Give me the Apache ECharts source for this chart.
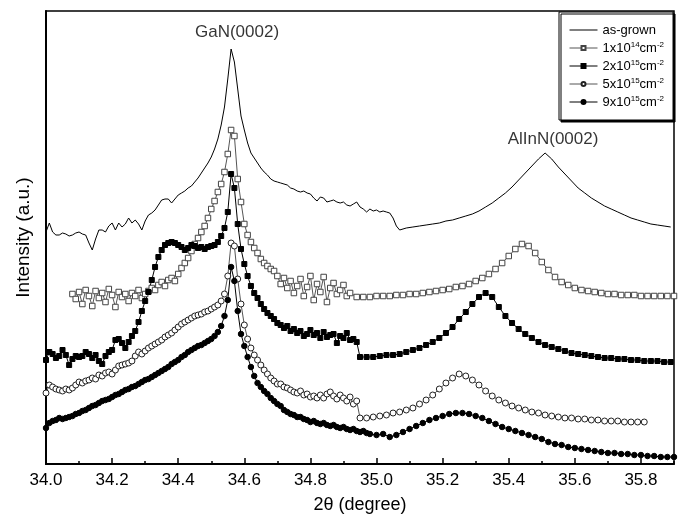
<!DOCTYPE html>
<html>
<head>
<meta charset="utf-8">
<title>XRD 2theta scan</title>
<script src="https://cdn.jsdelivr.net/npm/echarts/dist/echarts.min.js"></script>
<style>
  html, body { margin: 0; padding: 0; background: #fff; }
  #main { width: 686px; height: 519px; }
</style>
</head>
<body>
<div id="main"></div>
<script>
// intensity in arbitrary units, sampled on a regular 2theta scan (start, step)
const seriesNames = ['as-grown', '1x10^14cm^-2', '2x10^15cm^-2', '5x10^15cm^-2', '9x10^15cm^-2'];
const xTicks = [34.0, 34.2, 34.4, 34.6, 34.8, 35.0, 35.2, 35.4, 35.6, 35.8];

// as-grown: 34.00 -> 35.07 (step 0.01), 35.09 -> 35.89 (step 0.02)
const asGrownA = [232,241,232,229,229,231,230,228,229,231, 232,230,229,221,214,225,234,234,232,238,
  241,234,241,237,240,246,241,244,240,234, 243,249,251,254,259,264,265,265,261,265,
  269,271,273,276,278,282,286,291,296,301, 307,315,325,339,357,385,415,402,375,348,
  334,321,311,306,301,296,292,289,285,283, 282,281,280,279,276,275,273,272,273,271,
  270,266,263,267,266,262,263,264,262,261, 262,259,258,260,262,257,255,252,255,253,
  254,252,253,252,251,246,238,234];
const asGrownB = [236,237,238,239,240,241,243,244,246,248, 250,253,257,261,266,271,277,284,291,298,
  305,311,305,297,290,283,276,271,266,262, 258,255,252,249,246,244,242,240,239,238, 237];

// 1x10^14: 34.08 -> 34.92 (0.01), 34.94 -> 35.90 (0.02)
const dose14A = [170,165,172,160,174,168,158,173,166,171, 162,175,169,157,172,167,170,163,171,168,
  174,166,170,173,176,174,179,182,178,184, 186,183,190,196,201,206,213,220,226,232,
  238,246,255,263,272,280,292,310,334,328, 285,262,240,229,222,216,211,205,201,198,
  195,193,188,180,186,176,183,171,178,185, 168,177,188,164,180,172,187,162,176,181,
  170,174,179,168,171];
const dose14B = [167,167,167,168,168,168,169,169,170,170, 171,172,173,174,175,177,178,180,183,186,
  190,195,201,208,215,220,218,211,202,194, 187,182,179,176,174,173,172,171,170,170,
  169,169,169,168,168,168,168,168,168];

// 2x10^15: 34.00 -> 34.95 (0.01), 34.97 -> 35.89 (0.02)
const dose2e15A = [104,112,110,106,108,114,109,99,105,108, 107,108,112,110,106,109,103,100,108,112,
  114,124,125,121,116,122,128,133,142,153, 163,172,184,197,207,214,219,221,222,221,
  219,217,214,216,219,218,216,217,215,217, 218,219,222,228,236,252,290,276,240,215,
  200,188,178,171,166,160,155,151,148,145, 141,139,136,138,133,135,131,133,128,130,
  134,129,131,126,132,127,129,130,121,128, 126,131,124,125,122,107];
const dose2e15B = [107,107,108,109,109,110,112,114,116,119, 122,126,131,137,145,152,160,167,171,167,
  157,148,141,135,130,126,122,119,117,115, 113,111,110,109,108,107,106,106,105,105,
  104,104,103,103,103,102,102];

// 5x10^15: 34.00 -> 34.95 (0.01), 34.97 -> 35.81 (0.02)
const dose5e15A = [71,79,77,75,74,73,75,74,76,79, 82,81,83,84,86,85,89,88,91,92,
  90,94,98,99,100,101,103,108,112,110, 113,116,118,120,122,124,127,129,131,134,
  137,140,142,144,146,148,149,150,152,153, 155,157,159,163,170,188,221,218,185,160,
  139,125,116,109,104,99,94,90,86,83, 80,80,77,76,74,72,71,73,69,70,
  67,68,66,69,66,70,72,68,65,69, 66,63,67,60,63,46];
const dose5e15B = [46,47,48,49,51,52,54,56,60,64, 69,75,81,86,90,88,84,79,73,68,
  64,61,58,56,54,52,51,49,48,47, 46,46,45,45,44,44,43,43,43,42, 42,42,42];

// 9x10^15: 34.00 -> 34.98 (0.01), 35.00 -> 35.90 (0.02)
const dose9e15A = [36,41,43,44,46,45,46,47,48,50, 51,53,54,56,58,59,61,63,64,65,
  67,69,70,72,74,75,77,78,80,82, 84,85,87,89,91,93,95,97,100,102,
  104,107,109,112,114,116,118,119,121,123, 125,128,132,138,148,164,197,183,153,130,
  118,107,97,88,81,77,73,70,66,63, 60,58,54,52,50,49,47,47,45,44,
  42,43,41,40,41,39,38,39,37,36, 37,35,34,35,33,32,33,31,30];
const dose9e15B = [29,30,27,29,32,35,38,41,44,46, 48,50,51,51,50,48,46,43,40,37,
  35,33,31,29,27,25,22,20,19,17, 16,15,14,13,12,11,11,10,10,9, 9,8,8,7,7,7];

const peakLabels = [
  { name: 'GaN(0002)', value: [34.578, 432] },
  { name: 'AlInN(0002)', value: [35.534, 325] }
];

function scan(start, step, ys) {
  return ys.map(function (y, i) { return [+(start + i * step).toFixed(3), y]; });
}

const FONT = 'Liberation Sans, Arial, sans-serif';
const chart = echarts.init(document.getElementById('main'));

function markerSeries(name, data, symbol, size, fill, edge, line) {
  return {
    name: name,
    type: 'line',
    data: data,
    symbol: symbol,
    symbolSize: size,
    showAllSymbol: true,
    itemStyle: { color: fill, borderColor: edge, borderWidth: 1 },
    lineStyle: { color: line, width: 1 },
    emphasis: { disabled: true }
  };
}

const legendData = seriesNames.map(function (n, i) {
  return i === 0 ? { name: n, icon: 'path://M0,0L28,0L28,1L0,1Z' } : { name: n };
});

chart.setOption({
  animation: false,
  backgroundColor: '#fff',
  grid: { left: 46, right: 12, top: 11, bottom: 55, show: true, borderColor: '#000', borderWidth: 1.5 },
  legend: {
    data: legendData,
    orient: 'vertical',
    left: 559,
    top: 12,
    padding: [11, 9, 11, 10],
    itemWidth: 28,
    itemHeight: 5,
    itemGap: 4,
    backgroundColor: '#fff',
    borderColor: '#000',
    borderWidth: 1,
    shadowColor: '#000',
    shadowOffsetX: 2,
    shadowOffsetY: 2,
    shadowBlur: 0,
    lineStyle: { width: 1 },
    formatter: function (name) { return name.replace(/\^(-?\d+)/g, '{sup|$1}'); },
    textStyle: {
      fontFamily: FONT, fontSize: 13, color: '#000', lineHeight: 14,
      rich: { sup: { fontFamily: FONT, fontSize: 8, lineHeight: 6, verticalAlign: 'top', color: '#000' } }
    }
  },
  xAxis: [{
    type: 'value',
    min: 34.0,
    max: 35.9,
    interval: 0.2,
    name: '2θ (degree)',
    nameLocation: 'middle',
    nameGap: 32,
    nameTextStyle: { fontFamily: FONT, fontSize: 18, color: '#000' },
    axisLine: { lineStyle: { color: '#000', width: 2 } },
    axisTick: { inside: true, length: 6, lineStyle: { color: '#000', width: 1.5 } },
    axisLabel: {
      fontFamily: FONT, fontSize: 17, color: '#000', margin: 8, showMaxLabel: false,
      formatter: function (v) { return xTicks.indexOf(+v.toFixed(1)) >= 0 ? v.toFixed(1) : ''; }
    },
    splitLine: { show: false }
  }, {
    type: 'value',
    min: 34.0,
    max: 35.9,
    interval: 0.1,
    position: 'bottom',
    axisLine: { show: false },
    axisTick: { inside: true, length: 3, lineStyle: { color: '#000', width: 1.5 } },
    axisLabel: { show: false },
    splitLine: { show: false }
  }],
  yAxis: {
    type: 'value',
    min: 0,
    max: 453,
    name: 'Intensity (a.u.)',
    nameLocation: 'middle',
    nameGap: 13,
    nameTextStyle: { fontFamily: FONT, fontSize: 19, color: '#000' },
    axisLine: { show: true, lineStyle: { color: '#000', width: 2 } },
    axisTick: { show: false },
    axisLabel: { show: false },
    splitLine: { show: false }
  },
  series: [
    {
      name: seriesNames[0],
      type: 'line',
      data: scan(34.00, 0.01, asGrownA).concat(scan(35.09, 0.02, asGrownB)),
      symbol: 'none',
      itemStyle: { color: '#000' },
      lineStyle: { color: '#000', width: 1 },
      emphasis: { disabled: true }
    },
    markerSeries(seriesNames[1], scan(34.08, 0.01, dose14A).concat(scan(34.94, 0.02, dose14B)),
      'rect', 5.5, '#fff', '#444', '#555'),
    markerSeries(seriesNames[2], scan(34.00, 0.01, dose2e15A).concat(scan(34.97, 0.02, dose2e15B)),
      'rect', 5, '#000', '#000', '#000'),
    markerSeries(seriesNames[3], scan(34.00, 0.01, dose5e15A).concat(scan(34.97, 0.02, dose5e15B)),
      'circle', 6, '#fff', '#222', '#555'),
    markerSeries(seriesNames[4], scan(34.00, 0.01, dose9e15A).concat(scan(35.00, 0.02, dose9e15B)),
      'circle', 5.5, '#000', '#000', '#000'),
    {
      type: 'scatter',
      data: peakLabels,
      symbolSize: 1,
      silent: true,
      itemStyle: { color: 'rgba(0,0,0,0)' },
      label: {
        show: true, position: 'inside', formatter: '{b}',
        fontFamily: FONT, fontSize: 17, color: '#000'
      }
    }
  ]
});
</script>
</body>
</html>
